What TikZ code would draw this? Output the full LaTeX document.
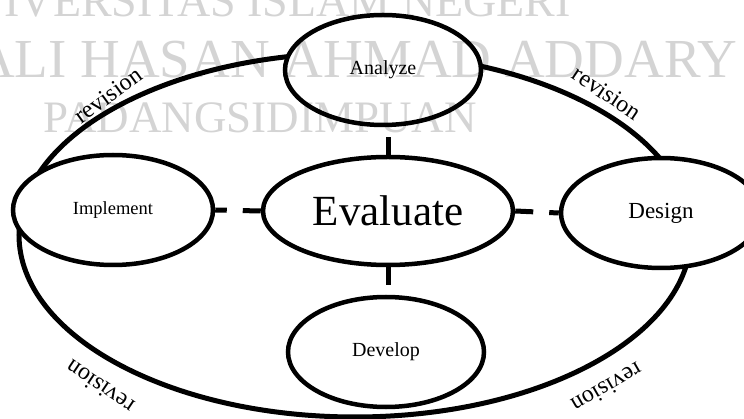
\documentclass[tikz,border=0pt]{standalone}
\usepackage{fontspec}
\setmainfont{Liberation Serif}
\usetikzlibrary{shapes.geometric}

\begin{document}
\begin{tikzpicture}[x=1pt, y=-1pt,
  stage/.style={draw, ellipse, line width=4.5pt, fill=white, inner sep=0pt, minimum width=196pt, minimum height=110pt, font=\fontsize{20}{24}\selectfont},
  link/.style={line width=5pt, dash pattern=on 18pt off 16pt},
  revlabel/.style={inner sep=0pt, font=\fontsize{24}{28}\selectfont},
  wmark/.style={inner sep=0pt, anchor=base west, text=black!17}]

  \useasboundingbox (0,0) rectangle (744,419);
  \begin{scope}
  \clip (0,0) rectangle (744,419);

  % Outer cycle
  \node[draw, ellipse, line width=5pt, inner sep=0pt, minimum width=672pt, minimum height=364pt] (cycle) at (355,235) {};

  % Stages
  \node[stage] (analyze) at (383,70) {Analyze};
  \node[stage, minimum width=200pt, font=\fontsize{18.5}{22}\selectfont] (implement) at (113,210) {Implement};
  \node[stage, minimum width=200pt, font=\fontsize{23}{27}\selectfont] (design) at (661,213) {Design};
  \node[stage] (develop) at (386,352) {Develop};
  \node[stage, minimum width=250pt, minimum height=108pt, font=\fontsize{43}{48}\selectfont] (evaluate) at (388,211) {Evaluate};

  % Dashed links
  \draw[link] (evaluate.north) -- (evaluate.north |- analyze.south);
  \draw[link] (evaluate.east) -- (design.west);
  \draw[link] (evaluate.west) -- (implement.east);
  \draw[link] (evaluate.south) -- (evaluate.south |- develop.north);

  % Revision labels
  \node[revlabel, rotate=36] (revA) at (108,95) {revision};
  \node[revlabel, rotate=-34] (revB) at (607,93) {revision};
  \node[revlabel, rotate=146] (revC) at (100,387) {revision};
  \node[revlabel, rotate=210] (revD) at (607,388) {revision};

  % Watermark
  \begin{scope}[blend mode=multiply]
  \node[wmark, font=\fontsize{46}{50}\selectfont] (wm1) at (-62,17) {UNIVERSITAS ISLAM NEGERI};
  \node[wmark, font=\fontsize{55}{60}\selectfont] (wm2) at (-25,78) {ALI HASAN AHMAD ADDARY};
  \node[wmark, font=\fontsize{45}{50}\selectfont] (wm3) at (43,133) {PADANGSIDIMPUAN};
  \end{scope}
  \end{scope}

\end{tikzpicture}
\end{document}
